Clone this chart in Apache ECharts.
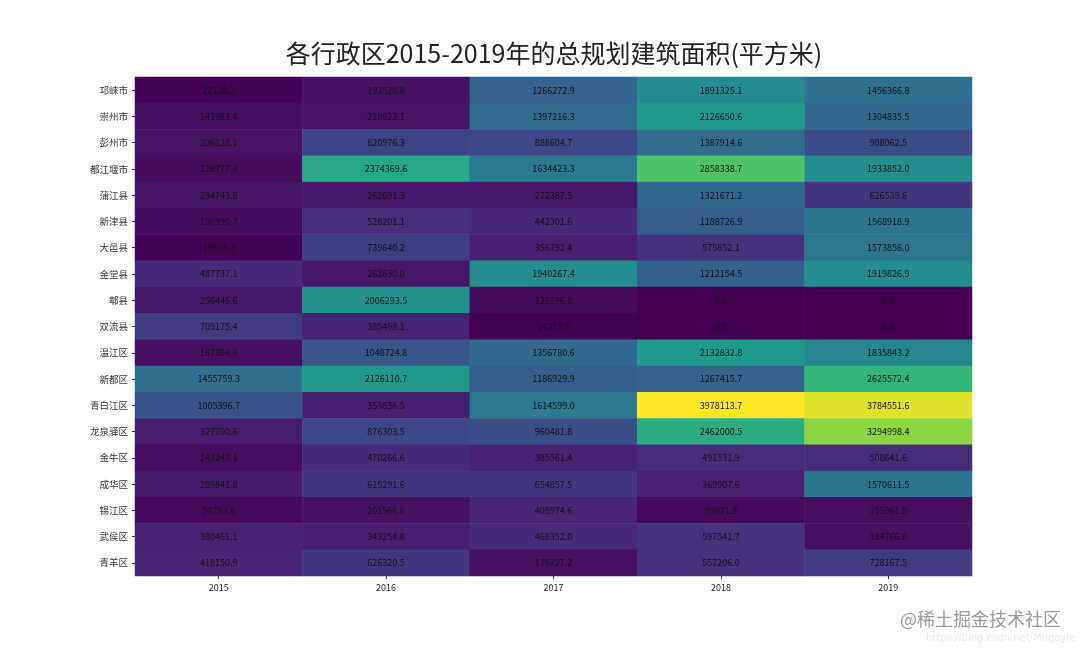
<!DOCTYPE html>
<html>
<head>
<meta charset="utf-8">
<style>html,body{margin:0;padding:0;background:#fff}#chart{width:1080px;height:648px}</style>
<script src="https://cdn.jsdelivr.net/npm/echarts@6/dist/echarts.min.js"></script>
</head>
<body>
<div id="chart"></div>
<script>
const years = ['2015', '2016', '2017', '2018', '2019'];
const districts = ['邛崃市', '崇州市', '彭州市', '都江堰市', '蒲江县', '新津县', '大邑县', '金堂县', '郫县', '双流县',
    '温江区', '新都区', '青白江区', '龙泉驿区', '金牛区', '成华区', '锦江区', '武侯区', '青羊区'];
const area2015 = [22138.3, 141983.4, 206128.1, 128777.4, 234743.8, 136990.7, 19655.7, 487737.1, 256446.6, 709175.4,
    167304.8, 1455759.3, 1005396.7, 327700.6, 143249.1, 289841.8, 98793.6, 380461.1, 418150.9];
const area2016 = [193520.8, 210822.1, 820976.3, 2374369.6, 262691.3, 528201.1, 739640.2, 262630.0, 2006293.5, 385498.1,
    1048724.8, 2126110.7, 353836.5, 876303.5, 470266.6, 615291.6, 201566.6, 343254.8, 626320.5];
const area2017 = [1266272.9, 1397216.3, 888604.7, 1634423.3, 272387.5, 442301.6, 356792.4, 1940267.4, 126596.8, 14213.9,
    1356780.6, 1186929.9, 1614599.0, 960481.8, 385561.4, 654857.5, 408974.6, 468352.0, 175727.2];
const area2018 = [1891325.1, 2126650.6, 1387914.6, 2858338.7, 1321671.2, 1188726.9, 575852.1, 1212154.5, 0, 0,
    2132832.8, 1267415.7, 3978113.7, 2462000.5, 491531.9, 369907.6, 99871.8, 597541.7, 557206.0];
const area2019 = [1456366.8, 1304835.5, 908062.5, 1933852.0, 626539.6, 1568918.9, 1573856.0, 1919826.9, 0, 0,
    1835843.2, 2625572.4, 3784551.6, 3294998.4, 508641.6, 1570611.5, 155961.0, 184766.0, 728167.5];
const viridis = ['#440154', '#482878', '#3e4989', '#31688e', '#26828e', '#1f9e89', '#35b779', '#6ece58', '#b5de2b', '#fde725'];

const columns = [area2015, area2016, area2017, area2018, area2019];
const cells = [];
columns.forEach((col, x) => col.forEach((v, y) => cells.push([x, y, v])));

const chart = echarts.init(document.getElementById('chart'));
chart.setOption({
    backgroundColor: '#fff',
    animation: false,
    title: [
        {
            text: '各行政区2015-2019年的总规划建筑面积(平方米)',
            left: 549, top: 36, textAlign: 'center',
            textStyle: { fontFamily: 'Noto Sans CJK SC', fontSize: 25, fontWeight: 'normal', color: '#222' }
        },
        {
            text: '@稀土掘金技术社区',
            left: 895, top: 605,
            textStyle: { fontFamily: 'Noto Sans CJK SC', fontSize: 18, fontWeight: 'normal', color: '#9a9a9a' }
        },
        {
            text: 'https://blog.csdn.net/Mugoyle',
            left: 921, top: 628,
            textStyle: { fontFamily: 'DejaVu Sans', fontSize: 10, fontWeight: 'normal', color: '#e6e6e6' }
        }
    ],
    grid: { left: 135, right: 108, top: 77, bottom: 72 },
    xAxis: {
        type: 'category', data: years,
        axisLine: { show: false },
        axisTick: { show: true, alignWithLabel: true, length: 3, lineStyle: { color: '#333' } },
        axisLabel: { fontFamily: 'Noto Sans CJK SC', fontSize: 9, color: '#222', margin: 7 },
        splitLine: { show: false }
    },
    yAxis: {
        type: 'category', data: districts, inverse: true,
        axisLine: { show: false },
        axisTick: { show: true, alignWithLabel: true, length: 3, lineStyle: { color: '#333' } },
        axisLabel: { fontFamily: 'Noto Sans CJK SC', fontSize: 9.5, color: '#333', margin: 7 },
        splitLine: { show: false }
    },
    visualMap: { show: false, min: 0, max: 3978113.7, dimension: 2, inRange: { color: viridis } },
    series: [{
        type: 'heatmap',
        data: cells,
        label: {
            show: true,
            fontFamily: 'Noto Sans CJK SC', fontSize: 9, color: '#111',
            formatter: p => p.value[2].toFixed(1)
        },
        itemStyle: { borderWidth: 0 },
        emphasis: { disabled: true }
    }]
});
window.addEventListener('resize', () => chart.resize());
</script>
</body>
</html>
